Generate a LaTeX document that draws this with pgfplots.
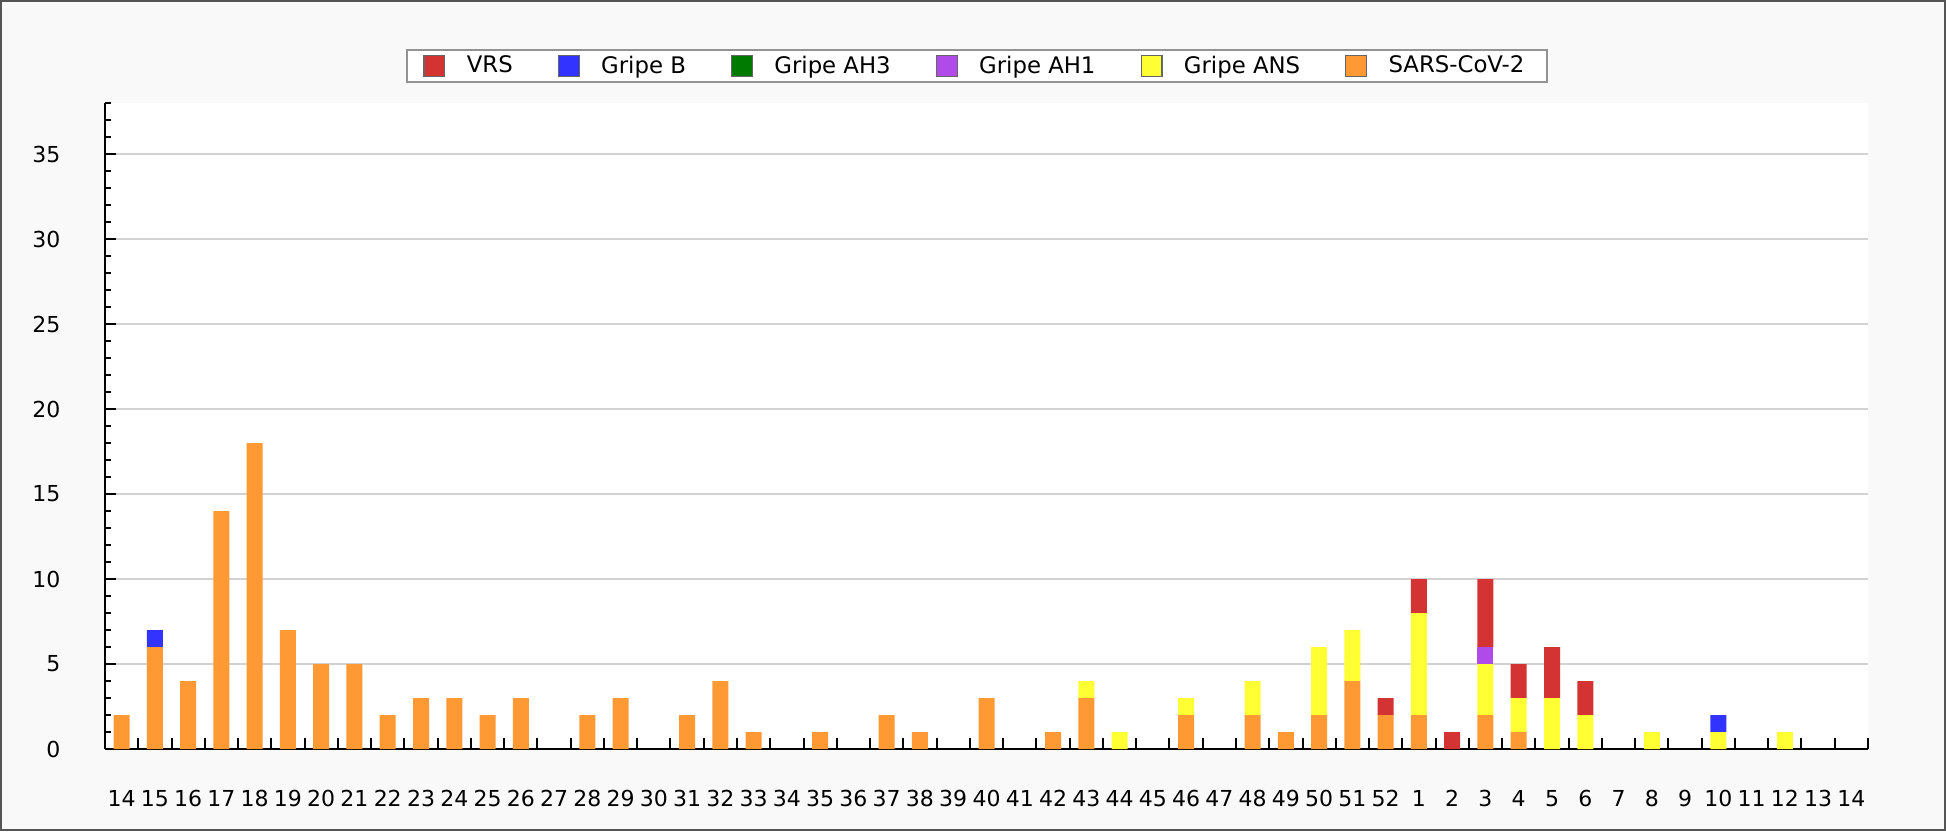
\documentclass[border=0pt]{standalone}
\usepackage{pgfplots}
\pgfplotsset{compat=1.18}
\usepackage{pgfplotstable}
\usepackage{fontspec}
\setmainfont{DejaVu Sans}
\definecolor{cS}{HTML}{FF9933}
\definecolor{cA}{HTML}{FFFF33}
\definecolor{cP}{HTML}{B04AE8}
\definecolor{cG}{HTML}{007A00}
\definecolor{cB}{HTML}{3333FF}
\definecolor{cR}{HTML}{D33333}
\definecolor{bgc}{HTML}{F9F9F9}
\definecolor{framec}{HTML}{555555}
\definecolor{gridc}{HTML}{D2D2D2}

% x  SARS  ANS  AH1  AH3  B  VRS
\pgfplotstableread{
x S A P G B R
0 2 0 0 0 0 0
1 6 0 0 0 1 0
2 4 0 0 0 0 0
3 14 0 0 0 0 0
4 18 0 0 0 0 0
5 7 0 0 0 0 0
6 5 0 0 0 0 0
7 5 0 0 0 0 0
8 2 0 0 0 0 0
9 3 0 0 0 0 0
10 3 0 0 0 0 0
11 2 0 0 0 0 0
12 3 0 0 0 0 0
13 0 0 0 0 0 0
14 2 0 0 0 0 0
15 3 0 0 0 0 0
16 0 0 0 0 0 0
17 2 0 0 0 0 0
18 4 0 0 0 0 0
19 1 0 0 0 0 0
20 0 0 0 0 0 0
21 1 0 0 0 0 0
22 0 0 0 0 0 0
23 2 0 0 0 0 0
24 1 0 0 0 0 0
25 0 0 0 0 0 0
26 3 0 0 0 0 0
27 0 0 0 0 0 0
28 1 0 0 0 0 0
29 3 1 0 0 0 0
30 0 1 0 0 0 0
31 0 0 0 0 0 0
32 2 1 0 0 0 0
33 0 0 0 0 0 0
34 2 2 0 0 0 0
35 1 0 0 0 0 0
36 2 4 0 0 0 0
37 4 3 0 0 0 0
38 2 0 0 0 0 1
39 2 6 0 0 0 2
40 0 0 0 0 0 1
41 2 3 1 0 0 4
42 1 2 0 0 0 2
43 0 3 0 0 0 3
44 0 2 0 0 0 2
45 0 0 0 0 0 0
46 0 1 0 0 0 0
47 0 0 0 0 0 0
48 0 1 0 0 1 0
49 0 0 0 0 0 0
50 0 1 0 0 0 0
51 0 0 0 0 0 0
52 0 0 0 0 0 0
}\data

\begin{document}
\begin{tikzpicture}
\path[use as bounding box] (-52.5pt,-41pt) rectangle (920.5pt,374.5pt);
\draw[fill=bgc, draw=framec, line width=0.8pt] (-52.1pt,-40.6pt) rectangle (920.1pt,374.1pt);
\begin{axis}[
  at={(0,0)}, anchor=south west,
  scale only axis, width=881.5pt, height=323pt,
  xmin=-0.5, xmax=52.5, ymin=0, ymax=38,
  ybar stacked, bar width=8pt,
  axis x line*=bottom, axis y line*=left,
  axis line style={-, line width=1pt, black},
  axis background/.style={fill=white},
  xtick={-0.5,0.5,...,52.5},
  xticklabels={14,15,16,17,18,19,20,21,22,23,24,25,26,27,28,29,30,31,32,33,34,35,36,37,38,39,40,41,42,43,44,45,46,47,48,49,50,51,52,1,2,3,4,5,6,7,8,9,10,11,12,13,14,{}},
  ytick={0,5,...,35},
  minor ytick={0,1,...,38},
  tick align=inside,
  major tick length=5.5pt, minor tick length=2.8pt,
  tick style={line width=1pt, black},
  ymajorgrids, major grid style={gridc, line width=0.8pt},
  /pgf/number format/assume math mode=true,
  ticklabel style={font=\fontsize{11}{13}\selectfont},
  xticklabel style={anchor=base, yshift=-28.5pt, xshift=8.316pt},
  yticklabel style={anchor=east, xshift=-18.8pt},
  legend columns=6, reverse legend,
  every axis plot post/.append style={legend image code/.code={\draw[#1, draw=gray!80!black, line width=0.6pt] (0pt,-5.2pt) rectangle (10.4pt,5.2pt);}},
  legend style={at={(0.4946,1)}, anchor=south, yshift=10pt, draw=gray!85, line width=1pt, fill=white,
    font=\fontsize{11.4}{13}\selectfont, inner xsep=8.3pt, inner ysep=1pt,
    nodes={inner xsep=3pt, inner ysep=2pt},
    /tikz/every odd column/.append style={column sep=7.7pt},
    /tikz/every even column/.append style={column sep=19.5pt}},
]
\addplot[fill=cS, draw=none] table[x=x, y=S] {\data};
\addlegendentry{SARS-CoV-2}
\addplot[fill=cA, draw=none] table[x=x, y=A] {\data};
\addlegendentry{Gripe ANS}
\addplot[fill=cP, draw=none] table[x=x, y=P] {\data};
\addlegendentry{Gripe AH1}
\addplot[fill=cG, draw=none] table[x=x, y=G] {\data};
\addlegendentry{Gripe AH3}
\addplot[fill=cB, draw=none] table[x=x, y=B] {\data};
\addlegendentry{Gripe B}
\addplot[fill=cR, draw=none] table[x=x, y=R] {\data};
\addlegendentry{VRS}
\end{axis}
\end{tikzpicture}
\end{document}
